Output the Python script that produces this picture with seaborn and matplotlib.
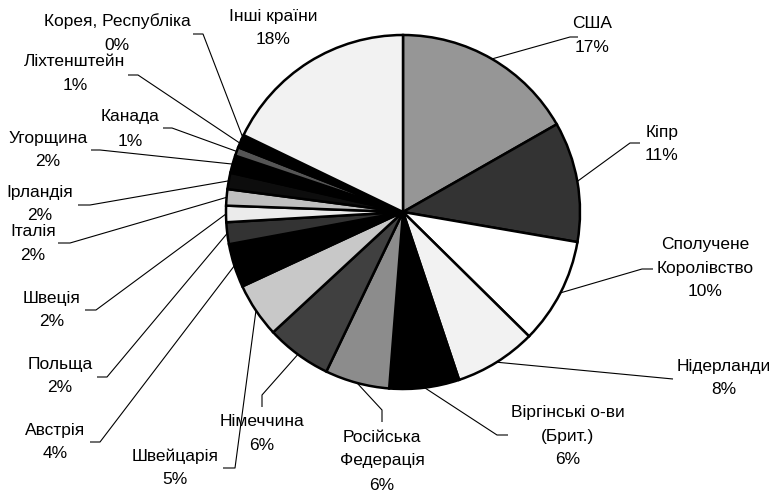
# Pie chart of investment by country (grayscale, labels with leader lines)
import matplotlib
matplotlib.use("Agg")
import matplotlib.pyplot as plt
import seaborn as sns
import numpy as np

# ----------------------------
# Data
# ----------------------------
countries = ["США", "Кіпр", "Сполучене\nКоролівство", "Нідерланди",
             "Віргінські о-ви\n(Брит.)", "Російська\nФедерація", "Німеччина",
             "Швейцарія", "Австрія", "Польща", "Швеція", "Італія", "Ірландія",
             "Угорщина", "Канада", "Ліхтенштейн", "Корея, Республіка",
             "Інші країни"]
shares = [16.8, 11.0, 9.7, 7.5, 6.4, 5.9, 6.0, 5.0, 4.0, 2.0, 1.5, 1.5, 1.5,
          1.6, 0.8, 0.8, 0.4, 17.9]
pct_labels = ["17%", "11%", "10%", "8%", "6%", "6%", "6%", "5%", "4%", "2%",
              "2%", "2%", "2%", "2%", "1%", "1%", "0%", "18%"]
grays = ["#969696", "#333333", "#ffffff", "#f2f2f2", "#000000", "#8c8c8c",
         "#404040", "#c8c8c8", "#000000", "#333333", "#ebebeb", "#c0c0c0",
         "#0d0d0d", "#000000", "#555555", "#000000", "#000000", "#f2f2f2"]

# label layout in pixel coords (x centre, y of first line), leader bends
label_pos = [(592, 24), (662, 132), (705, 244), (724, 366), (568, 412),
             (382, 437), (262, 421), (175, 456), (55, 430), (60, 364),
             (52, 298), (33, 232), (40, 192), (48, 138), (130, 117),
             (75, 62), (117, 21), (273, 16)]
leaders = [[(570, 37), (578, 37)], [(630, 143), (640, 143)],
           [(642, 269), (653, 269)], [(673, 379)],
           [(497, 435), (508, 435)], [(382, 410), (382, 422)],
           [(262, 395), (262, 407)], [(235, 468), (223, 468)],
           [(100, 442), (90, 442)], [(107, 377), (97, 377)],
           [(96, 310), (85, 310)], [(70, 243), (58, 243)],
           [(90, 205), (78, 205)], [(100, 150), (91, 150)],
           [(172, 128), (163, 128)], [(138, 75), (128, 75)],
           [(203, 34), (193, 34)], None]

# ----------------------------
# Plot
# ----------------------------
sns.set_style("white")
plt.rcParams["font.family"] = ["Liberation Sans", "DejaVu Sans"]

fig = plt.figure(figsize=(7.74, 4.92), dpi=100)
ax = fig.add_axes([0, 0, 1, 1])

cx, cy, r = 403, 212, 177
wedges, _ = ax.pie(shares, colors=grays, startangle=-90, counterclock=True,
                   radius=r, center=(cx, cy), frame=True,
                   wedgeprops=dict(edgecolor="black", linewidth=1.8))
ax.set_xlim(0, 774)
ax.set_ylim(492, 0)
ax.set_aspect("equal")
ax.axis("off")

for w, name, pct, pos, bends in zip(wedges, countries, pct_labels, label_pos, leaders):
    if bends:
        mid = np.deg2rad((w.theta1 + w.theta2) / 2)
        pts = [(cx + r * np.cos(mid), cy + r * np.sin(mid))] + bends
        xs, ys = zip(*pts)
        ax.plot(xs, ys, color="black", lw=0.8, solid_capstyle="butt")
    lines = name.split("\n") + [pct]
    for i, line in enumerate(lines):
        ax.text(pos[0], pos[1] + i * 24, line, ha="center", va="center",
                fontsize=12.5, color="black")

plt.savefig("out.png", dpi=100)
